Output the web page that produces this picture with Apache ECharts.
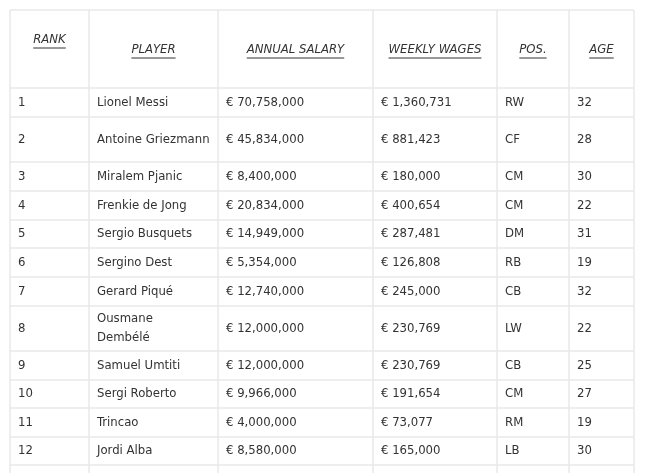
<!DOCTYPE html>
<html><head><meta charset="utf-8">
<script src="https://cdn.jsdelivr.net/npm/echarts@6/dist/echarts.min.js"></script>
<style>html,body{margin:0;background:#fff}#c{width:650px;height:473px}</style>
</head><body><div id="c"></div>
<script>
const headers = ['RANK','PLAYER','ANNUAL SALARY','WEEKLY WAGES','POS.','AGE'];
const ranks = [1,2,3,4,5,6,7,8,9,10,11,12];
const players = ['Lionel Messi','Antoine Griezmann','Miralem Pjanic','Frenkie de Jong','Sergio Busquets','Sergino Dest','Gerard Piqué','Ousmane Dembélé','Samuel Umtiti','Sergi Roberto','Trincao','Jordi Alba'];
const annualSalary = ['€ 70,758,000','€ 45,834,000','€ 8,400,000','€ 20,834,000','€ 14,949,000','€ 5,354,000','€ 12,740,000','€ 12,000,000','€ 12,000,000','€ 9,966,000','€ 4,000,000','€ 8,580,000'];
const weeklyWages = ['€ 1,360,731','€ 881,423','€ 180,000','€ 400,654','€ 287,481','€ 126,808','€ 245,000','€ 230,769','€ 230,769','€ 191,654','€ 73,077','€ 165,000'];
const positions = ['RW','CF','CM','CM','DM','RB','CB','LW','CB','CM','RM','LB'];
const ages = [32,28,30,22,31,19,32,22,25,27,19,30];

(function(){
const colX = [10,89,218,373,497,569,634];
const headerTop = 10, headerBottom = 88;
const rowHeights = [29,45,29,29,28,29,29,45,29,28,29,28,40];
const fontFamily = '"DejaVu Sans Condensed", Verdana, "Liberation Sans", sans-serif';
const lineColor = '#e8e8e8', textColor = '#333';

const cv = document.createElement('canvas').getContext('2d');
cv.font = 'italic 13px ' + fontFamily;

const els = [];
const ys = [headerTop, headerBottom];
let yy0 = headerBottom;
rowHeights.forEach(h => { yy0 += h; ys.push(yy0); });
ys.forEach(yy => els.push({type:'line', shape:{x1:colX[0],y1:yy,x2:colX[6],y2:yy}, style:{stroke:lineColor,lineWidth:1.5}}));
colX.forEach(xx => els.push({type:'line', shape:{x1:xx,y1:headerTop,x2:xx,y2:473}, style:{stroke:lineColor,lineWidth:1.5}}));

headers.forEach((h,i) => {
  const cx = (colX[i]+colX[i+1])/2;
  const ty = i===0 ? 40 : 50;
  els.push({type:'text', x:cx, y:ty, style:{text:h, fontSize:13, fontStyle:'italic', fontFamily, fill:textColor, align:'center', verticalAlign:'middle'}});
  const w = cv.measureText(h).width;
  els.push({type:'line', shape:{x1:cx-w/2,y1:ty+8,x2:cx+w/2,y2:ty+8}, style:{stroke:textColor,lineWidth:1}});
});

const cols = [ranks, players, annualSalary, weeklyWages, positions, ages];
let rowTop = headerBottom;
ranks.forEach((r,ri) => {
  const cy = rowTop + rowHeights[ri]/2;
  cols.forEach((arr,ci) => {
    els.push({type:'text', x:colX[ci]+8, y:cy, style:{text:String(arr[ri]), fontSize:13, fontFamily, fill:textColor, align:'left', verticalAlign:'middle', width:colX[ci+1]-colX[ci]-14, overflow:'break', lineHeight:19}});
  });
  rowTop += rowHeights[ri];
});

const chart = echarts.init(document.getElementById('c'));
chart.setOption({backgroundColor:'#fff', graphic:{elements:els}});
})();
</script></body></html>
